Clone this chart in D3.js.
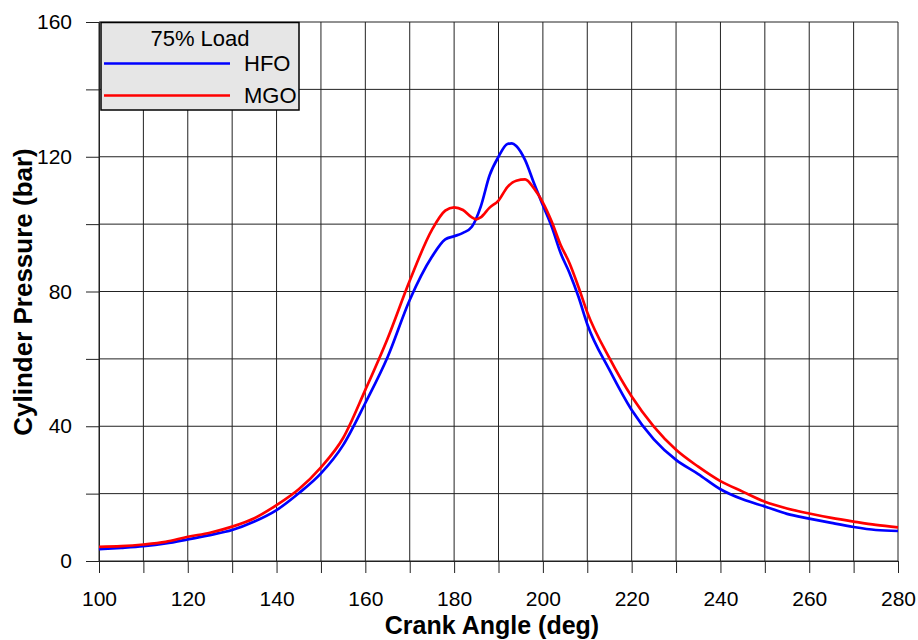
<!DOCTYPE html>
<html lang="en">
<head>
    <meta charset="UTF-8">
    <title>Cylinder Pressure vs Crank Angle</title>
    <script src="https://d3js.org/d3.v7.min.js"></script>
    <style>
        body { margin: 0; background: #fff; }
        svg { display: block; font-family: "Liberation Sans", Arial, sans-serif; }
    </style>
</head>
<body>
    <svg width="918" height="640"></svg>

    <script>
        // crank angle (deg) sample points
        const angleHFO = [100, 105, 110, 115, 120, 125, 130, 135, 140, 145, 150, 155, 160, 165, 170, 175, 178, 180, 182, 184, 186, 188, 190, 192, 193, 194, 196, 198, 200, 202, 204, 206, 208, 210, 215, 220, 225, 230, 235, 240, 245, 250, 255, 260, 265, 270, 275, 280];
        const pressureHFO = [3.5, 3.9, 4.4, 5.2, 6.4, 7.7, 9.2, 11.7, 15.1, 20.1, 26.0, 34.4, 46.9, 60.5, 77.5, 90.3, 95.5, 96.4, 97.4, 99.2, 105.2, 114.5, 120.0, 123.8, 124.0, 123.2, 119.0, 112.1, 105.6, 99.2, 91.4, 85.5, 78.5, 70.3, 56.7, 44.8, 36.1, 30.0, 25.8, 21.3, 18.3, 16.2, 14.0, 12.6, 11.3, 10.1, 9.2, 8.9];

        const angleMGO = [100, 105, 110, 115, 120, 125, 130, 135, 140, 145, 150, 155, 160, 165, 170, 175, 178, 180, 182, 184, 185, 186, 188, 190, 192, 194, 196, 198, 200, 202, 204, 206, 208, 210, 215, 220, 225, 230, 235, 240, 245, 250, 255, 260, 265, 270, 275, 280];
        const pressureMGO = [4.2, 4.4, 4.9, 5.7, 7.2, 8.4, 10.2, 12.7, 16.6, 21.3, 27.8, 36.5, 50.8, 66.0, 83.2, 98.3, 104.0, 105.0, 104.2, 102.0, 101.4, 102.0, 104.9, 107.0, 111.0, 112.9, 113.3, 110.6, 106.4, 100.7, 93.8, 88.4, 81.4, 73.8, 60.2, 48.8, 39.9, 33.0, 28.0, 23.7, 20.6, 17.6, 15.6, 14.1, 12.8, 11.7, 10.7, 10.0];

        const xTicks = d3.range(100, 281, 10);
        const yTicks = d3.range(0, 161, 20);
        const seriesNames = ['HFO', 'MGO'];
        const seriesColors = ['#0000ff', '#ff0000'];

        const svg = d3.select('svg');
        const x = d3.scaleLinear().domain([100, 280]).range([99, 898]);
        const y = d3.scaleLinear().domain([0, 160]).range([561, 22]);

        // grid
        const grid = svg.append('g').attr('stroke', '#222').attr('stroke-width', 1);
        grid.selectAll('.vx').data(xTicks).join('line')
            .attr('x1', d => x(d)).attr('x2', d => x(d))
            .attr('y1', y(0)).attr('y2', y(160));
        grid.selectAll('.hy').data(yTicks).join('line')
            .attr('y1', d => y(d)).attr('y2', d => y(d))
            .attr('x1', x(100)).attr('x2', x(280));

        // axes
        const xAxis = svg.append('g')
            .attr('transform', `translate(0,${y(0)})`)
            .call(d3.axisBottom(x).tickValues(xTicks).tickSize(12).tickSizeOuter(0).tickPadding(18)
                .tickFormat(d => d % 20 === 0 ? d : ''));
        const yAxis = svg.append('g')
            .attr('transform', `translate(${x(100)},0)`)
            .call(d3.axisLeft(y).tickValues(yTicks).tickSize(13).tickSizeOuter(0).tickPadding(14)
                .tickFormat(d => d % 40 === 0 ? d : ''));
        [xAxis, yAxis].forEach(a => {
            a.select('.domain').attr('stroke', '#222');
            a.selectAll('.tick line').attr('stroke', '#222');
            a.selectAll('text').attr('fill', '#000').style('font-size', '21px');
        });

        // curves
        const line = d3.line().x(d => x(d[0])).y(d => y(d[1])).curve(d3.curveMonotoneX);
        const series = [d3.zip(angleHFO, pressureHFO), d3.zip(angleMGO, pressureMGO)];
        svg.append('g').selectAll('path').data(series).join('path')
            .attr('fill', 'none')
            .attr('stroke', (d, i) => seriesColors[i])
            .attr('stroke-width', 2.7)
            .attr('stroke-linejoin', 'round')
            .attr('d', line);

        // axis titles
        svg.append('text')
            .attr('x', 492).attr('y', 634)
            .attr('text-anchor', 'middle')
            .style('font-size', '25px').style('font-weight', 'bold')
            .text('Crank Angle (deg)');
        svg.append('text')
            .attr('transform', 'translate(32,292) rotate(-90)')
            .attr('text-anchor', 'middle')
            .style('font-size', '26px').style('font-weight', 'bold')
            .text('Cylinder Pressure (bar)');

        // legend
        const legend = svg.append('g');
        legend.append('rect')
            .attr('x', 101).attr('y', 22.5).attr('width', 198).attr('height', 87.5)
            .attr('fill', '#e6e6e6').attr('stroke', '#000').attr('stroke-width', 1.5);
        legend.append('text')
            .attr('x', 200).attr('y', 46)
            .attr('text-anchor', 'middle').style('font-size', '22px')
            .text('75% Load');
        const item = legend.selectAll('.item').data(seriesNames).join('g')
            .attr('transform', (d, i) => `translate(0,${63.5 + i * 32})`);
        item.append('line')
            .attr('x1', 104).attr('x2', 230)
            .attr('stroke', (d, i) => seriesColors[i]).attr('stroke-width', 2.7);
        item.append('text')
            .attr('x', 244).attr('y', 7.5)
            .style('font-size', '22px')
            .text(d => d);
    </script>
</body>
</html>
